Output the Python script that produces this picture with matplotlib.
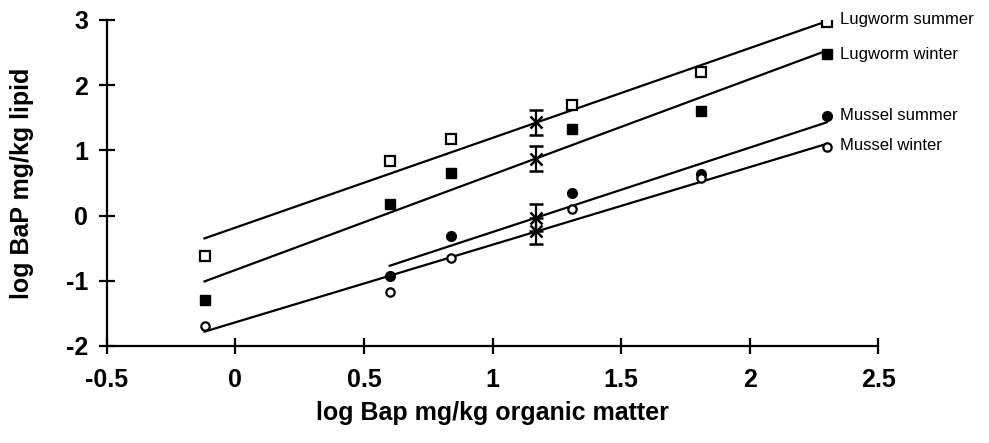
import numpy as np
import matplotlib
matplotlib.use('Agg')
from matplotlib import pyplot as plt

plt.rcParams['font.family'] = ['Liberation Sans', 'DejaVu Sans']
plt.rcParams['axes.unicode_minus'] = False

# data
x_pts = [-0.12, 0.60, 0.84, 1.31, 1.81, 2.30]
lug_summer = [-0.62, 0.83, 1.18, 1.70, 2.20, 2.97]
lug_winter = [-1.30, 0.17, 0.66, 1.33, 1.60, 2.47]
mus_summer_x = [0.60, 0.84, 1.31, 1.81, 2.30]
mus_summer = [-0.93, -0.32, 0.35, 0.64, 1.53]
mus_winter = [-1.70, -1.17, -0.65, 0.10, 0.58, 1.05]

# regression lines (start / end)
lug_summer_line = ([-0.12, 2.30], [-0.35, 2.98])
lug_winter_line = ([-0.12, 2.30], [-1.01, 2.53])
mus_summer_line = ([0.60, 2.30], [-0.77, 1.43])
mus_winter_line = ([-0.12, 2.30], [-1.78, 1.10])

# means with error bars
mean_x = 1.17
means = [1.43, 0.87, -0.03, -0.23]
errs = [0.19, 0.19, 0.2, 0.2]

labels = ['Lugworm summer', 'Lugworm winter', 'Mussel summer', 'Mussel winter']
label_y = [3.0, 2.47, 1.53, 1.07]

fig = plt.figure(figsize=(9.89, 4.43), dpi=100)
ax = fig.add_axes([0.108, 0.219, 0.78, 0.736])

for lx, ly in [lug_summer_line, lug_winter_line, mus_summer_line, mus_winter_line]:
    ax.plot(lx, ly, color='black', lw=1.6, zorder=2)

ax.plot(x_pts, lug_summer, 's', ms=6.5, mfc='white', mec='black', mew=1.6, zorder=3)
ax.plot(x_pts, lug_winter, 's', ms=7, mfc='black', mec='black', zorder=3)
ax.plot(mus_summer_x, mus_summer, 'o', ms=7, mfc='black', mec='black', zorder=3)
ax.plot(x_pts, mus_winter, 'o', ms=6, mfc='white', mec='black', mew=1.6, zorder=3)

for m, e in zip(means, errs):
    ax.errorbar(mean_x, m, yerr=e, fmt='x', color='black', ms=9, mew=1.8,
                elinewidth=1.6, capsize=5, capthick=1.6, zorder=4)

for lab, y in zip(labels, label_y):
    ax.text(2.35, y, lab, fontsize=12, va='center', ha='left', clip_on=False)

ax.set_xlim(-0.5, 2.5)
ax.set_ylim(-2, 3)
ax.set_xticks([-0.5, 0, 0.5, 1, 1.5, 2, 2.5])
ax.set_xticklabels(['-0.5', '0', '0.5', '1', '1.5', '2', '2.5'])
ax.set_yticks([-2, -1, 0, 1, 2, 3])

for s in ['top', 'right']:
    ax.spines[s].set_visible(False)
for s in ['left', 'bottom']:
    ax.spines[s].set_linewidth(1.6)

ax.tick_params(direction='inout', length=12, width=1.6, labelsize=18)
ax.tick_params(axis='x', pad=10)
ax.tick_params(axis='y', pad=7.5)
for t in ax.get_xticklabels() + ax.get_yticklabels():
    t.set_fontweight('bold')

ax.set_xlabel('log Bap mg/kg organic matter', fontsize=18, fontweight='bold', labelpad=6.5)
ax.set_ylabel('log BaP mg/kg lipid', fontsize=18, fontweight='bold', labelpad=23)

fig.savefig('out.png', dpi=100)
